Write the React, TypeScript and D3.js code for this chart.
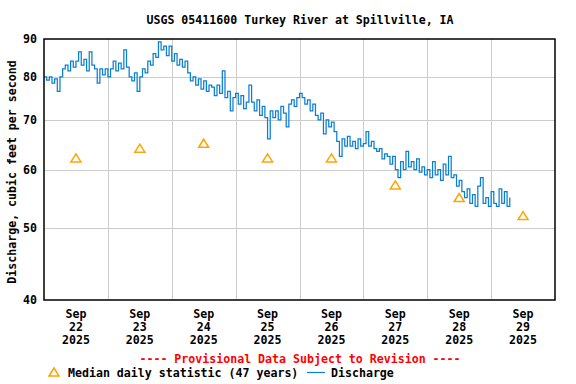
import React, { useEffect, useRef } from "react";
import * as d3 from "d3";

// hourly discharge (cfs), starting Sep 22 2025 00:00
const dischargeStart = new Date(2025, 8, 22, 0, 0);
const discharge = [
    80, 79.2, 80, 78.5, 79.5, 76.5, 80, 82, 83, 81.5, 84, 82.5, 84, 86.5, 83, 84.5, 81.5, 86.5, 83, 82, 78.5, 82, 80.5, 82,
    80, 82, 84, 81.5, 83.5, 82, 87, 82.5, 80, 79, 81, 76.5, 80, 82, 81, 84, 83, 86, 85, 89.2, 87, 88, 85.5, 88,
    84, 86, 83, 84.5, 82.5, 84, 81, 79, 80, 78, 79.5, 77, 79, 76.5, 78, 77.5, 75.5, 78, 76, 81.5, 75, 76.5, 72, 75,
    76, 73.5, 75.5, 72.5, 74, 78, 74, 72, 74.5, 71, 73, 70.5, 66, 72, 70.5, 72, 70, 73, 71.5, 68.5, 73.5, 74.5, 73, 75,
    76, 75, 73.5, 74.5, 72, 73.5, 71, 70, 71.5, 67, 70, 68.5, 69.5, 67.5, 65.5, 62.5, 66, 64.5, 66.5, 64.5, 65.5, 64, 66, 64.5,
    65, 67.5, 64.5, 65.5, 64, 63.5, 64, 62, 63, 62.5, 61, 62.5, 60, 58.5, 61.5, 60, 63.5, 60.5, 61.5, 60, 62, 59.5, 60.5, 59,
    60, 58.5, 61.5, 59, 60, 58, 61, 59, 62.5, 58.5, 59, 57, 58, 56, 55, 56.5, 54, 55.5, 53.5, 57, 58.5, 54, 55, 53.5,
    56, 54, 53.5, 56.5, 54, 56, 53.5, 55,
];

// median daily statistic (47 years), plotted at noon of each day
const medianDays = [22, 23, 24, 25, 26, 27, 28, 29];
const medianValues = [62.2, 64.1, 65.1, 62.2, 62.2, 57.2, 55.0, 52.0];

const yTicks = [40, 50, 60, 70, 80, 90];
const dayLabels = ["22", "23", "24", "25", "26", "27", "28", "29"];

const FONT = "'DejaVu Sans Mono', monospace";

const Chart = () => {
    const svgRef = useRef<SVGSVGElement>(null);

    useEffect(() => {
        const width = 576;
        const height = 384;
        const left = 44, right = 555, top = 39, bottom = 300;

        const svg = d3.select(svgRef.current);
        svg.selectAll("*").remove();
        svg.attr("width", width).attr("height", height);

        svg.append("rect").attr("width", width).attr("height", height).attr("fill", "#fff");

        const x = d3
            .scaleTime()
            .domain([new Date(2025, 8, 22), new Date(2025, 8, 30)])
            .range([left, right]);

        const y = d3.scaleLog().domain([40, 90]).range([bottom, top]);

        // grid
        const days = d3.timeDay.range(new Date(2025, 8, 23), new Date(2025, 8, 30));
        svg.append("g")
            .selectAll("line")
            .data(days)
            .join("line")
            .attr("x1", (d) => Math.round(x(d)) + 0.5)
            .attr("x2", (d) => Math.round(x(d)) + 0.5)
            .attr("y1", top)
            .attr("y2", bottom)
            .attr("stroke", "#cccccc")
            .attr("stroke-width", 1);

        svg.append("g")
            .selectAll("line")
            .data(yTicks.slice(1, -1))
            .join("line")
            .attr("x1", left)
            .attr("x2", right)
            .attr("y1", (d) => Math.round(y(d)) + 0.5)
            .attr("y2", (d) => Math.round(y(d)) + 0.5)
            .attr("stroke", "#cccccc")
            .attr("stroke-width", 1);

        // discharge
        const points = discharge.map((v, i) => ({ t: d3.timeHour.offset(dischargeStart, i), v }));
        const line = d3
            .line<{ t: Date; v: number }>()
            .x((d) => x(d.t))
            .y((d) => y(d.v))
            .curve(d3.curveStepAfter);

        svg.append("path")
            .datum(points)
            .attr("d", line)
            .attr("fill", "none")
            .attr("stroke", "#0a80d2")
            .attr("stroke-width", 1.25);

        // median triangles
        const tri = (cx: number, cy: number) =>
            `M${cx - 5},${cy + 4}L${cx},${cy - 4}L${cx + 5},${cy + 4}Z`;

        svg.append("g")
            .selectAll("path")
            .data(medianDays.map((d, i) => ({ t: new Date(2025, 8, d, 12), v: medianValues[i] })))
            .join("path")
            .attr("d", (d) => tri(x(d.t), y(d.v)))
            .attr("fill", "none")
            .attr("stroke", "#ffa500")
            .attr("stroke-width", 1.5);

        // frame
        svg.append("rect")
            .attr("x", left)
            .attr("y", top)
            .attr("width", right - left)
            .attr("height", bottom - top)
            .attr("fill", "none")
            .attr("stroke", "#000")
            .attr("stroke-width", 1.5);

        const text = (g, tx, ty, s, anchor = "start", fill = "#000") =>
            g.append("text")
                .attr("x", tx)
                .attr("y", ty)
                .attr("text-anchor", anchor)
                .attr("fill", fill)
                .style("font-family", FONT)
                .style("font-size", "11.6px")
                .style("font-weight", "bold")
                .text(s);

        // y tick labels
        yTicks.forEach((v) => {
            text(svg, 37, y(v) + 4, String(v), "end");
        });

        // x tick labels
        dayLabels.forEach((d, i) => {
            const cx = x(new Date(2025, 8, medianDays[i], 12));
            text(svg, cx, 318, "Sep", "middle");
            text(svg, cx, 331, d, "middle");
            text(svg, cx, 344, "2025", "middle");
        });

        // titles
        text(svg, 300, 24, "USGS 05411600 Turkey River at Spillville, IA", "middle");
        text(svg, 0, 0, "Discharge, cubic feet per second", "middle").attr(
            "transform",
            "translate(16, 172) rotate(-90)"
        );
        text(svg, 300, 363, "---- Provisional Data Subject to Revision ----", "middle", "#ff0000");

        // legend
        svg.append("path")
            .attr("d", tri(54, 372))
            .attr("fill", "none")
            .attr("stroke", "#ffa500")
            .attr("stroke-width", 1.5);
        text(svg, 68, 377, "Median daily statistic (47 years)");
        svg.append("line")
            .attr("x1", 307)
            .attr("x2", 325)
            .attr("y1", 372.5)
            .attr("y2", 372.5)
            .attr("stroke", "#0a80d2")
            .attr("stroke-width", 1.2);
        text(svg, 331, 377, "Discharge");
    }, []);

    return <svg ref={svgRef} style={{ position: "absolute", left: 0, top: 0 }}></svg>;
};

export default function App() {
    return <Chart />;
}
